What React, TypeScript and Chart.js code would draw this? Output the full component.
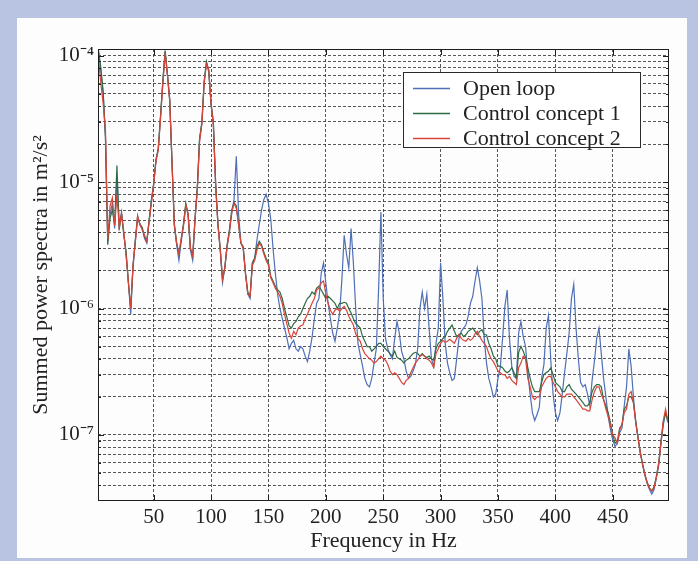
import React, { useEffect, useRef } from "react";
import { Chart, registerables } from "chart.js";

Chart.register(...registerables);

// ---- data (frequency in Hz, summed power spectra in m^2/s^2) ----
const frequencies = [
  2, 4, 6, 8, 10, 12, 14, 16, 18, 20,
  22, 24, 26, 28, 30, 32, 34, 36, 38, 40,
  42, 44, 46, 48, 50, 52, 54, 56, 58, 60,
  62, 64, 66, 68, 70, 72, 74, 76, 78, 80,
  82, 84, 86, 88, 90, 92, 94, 96, 98, 100,
  102, 104, 106, 108, 110, 112, 114, 116, 118, 120,
  122, 124, 126, 128, 130, 132, 134, 136, 138, 140,
  142, 144, 146, 148, 150, 152, 154, 156, 158, 160,
  162, 164, 166, 168, 170, 172, 174, 176, 178, 180,
  182, 184, 186, 188, 190, 192, 194, 196, 198, 200,
  202, 204, 206, 208, 210, 212, 214, 216, 218, 220,
  222, 224, 226, 228, 230, 232, 234, 236, 238, 240,
  242, 244, 246, 248, 250, 252, 254, 256, 258, 260,
  262, 264, 266, 268, 270, 272, 274, 276, 278, 280,
  282, 284, 286, 288, 290, 292, 294, 296, 298, 300,
  302, 304, 306, 308, 310, 312, 314, 316, 318, 320,
  322, 324, 326, 328, 330, 332, 334, 336, 338, 340,
  342, 344, 346, 348, 350, 352, 354, 356, 358, 360,
  362, 364, 366, 368, 370, 372, 374, 376, 378, 380,
  382, 384, 386, 388, 390, 392, 394, 396, 398, 400,
  402, 404, 406, 408, 410, 412, 414, 416, 418, 420,
  422, 424, 426, 428, 430, 432, 434, 436, 438, 440,
  442, 444, 446, 448, 450, 452, 454, 456, 458, 460,
  462, 464, 466, 468, 470, 472, 474, 476, 478, 480,
  482, 484, 486, 488, 490, 492, 494, 496, 498,
];

const openLoop = [
  1.05e-4, 7.5e-5, 5e-5, 2.2e-5, 3.4e-6, 5.5e-6, 6.8e-6, 4.3e-6, 1.1e-5, 4.5e-6,
  5.8e-6, 3.9e-6, 2.7e-6, 1.6e-6, 9e-7, 2.1e-6, 3.4e-6, 5.2e-6, 4.7e-6, 4.3e-6,
  3.6e-6, 3.3e-6, 4.9e-6, 7e-6, 9.5e-6, 1.5e-5, 1.8e-5, 3.3e-5, 6.2e-5, 1.08e-4,
  7e-5, 4.4e-5, 1.4e-5, 4.5e-6, 3.2e-6, 2.4e-6, 3.4e-6, 4.6e-6, 6.6e-6, 5.5e-6,
  2.9e-6, 2.4e-6, 5e-6, 8.8e-6, 2.2e-5, 2.9e-5, 6.2e-5, 8.8e-5, 7.5e-5, 4.1e-5,
  2.9e-5, 9.6e-6, 4.6e-6, 2.9e-6, 1.6e-6, 2.1e-6, 3.1e-6, 4.1e-6, 5.6e-6, 7.3e-6,
  1.6e-5, 5.6e-6, 3.3e-6, 3e-6, 1.9e-6, 1.3e-6, 1.2e-6, 2.3e-6, 2.5e-6, 3.5e-6,
  4.6e-6, 6e-6, 7.3e-6, 8e-6, 6.8e-6, 5.1e-6, 3e-6, 1.9e-6, 1.3e-6, 1e-6,
  8.4e-7, 7e-7, 5.9e-7, 4.8e-7, 5.3e-7, 5.6e-7, 4.8e-7, 4.6e-7, 5e-7, 4.8e-7,
  4.2e-7, 3.8e-7, 4.6e-7, 5.9e-7, 8.3e-7, 1.1e-6, 1.2e-6, 1.9e-6, 2.3e-6, 1.6e-6,
  1.1e-6, 8.3e-7, 6.4e-7, 5.5e-7, 7e-7, 9.2e-7, 1.7e-6, 3.8e-6, 2.7e-6, 2.1e-6,
  4.3e-6, 2.3e-6, 1e-6, 5.3e-7, 4.3e-7, 3.5e-7, 2.8e-7, 2.5e-7, 2.4e-7, 2.8e-7,
  3.7e-7, 4.8e-7, 1.45e-6, 5.8e-6, 1.2e-6, 5.8e-7, 4.8e-7, 4.3e-7, 4e-7, 5.8e-7,
  7.9e-7, 6.4e-7, 4.6e-7, 4e-7, 3.2e-7, 2.8e-7, 2.9e-7, 3.2e-7, 3.6e-7, 4.8e-7,
  1e-6, 1.35e-6, 1e-6, 1.3e-6, 7e-7, 4e-7, 3.5e-7, 5.3e-7, 7e-7, 2.3e-6,
  1.2e-6, 5.3e-7, 3.7e-7, 3.1e-7, 2.7e-7, 2.8e-7, 4e-7, 5.8e-7, 6.6e-7, 7e-7,
  7.4e-7, 8.7e-7, 1.1e-6, 1.25e-6, 1.65e-6, 2.1e-6, 1.65e-6, 1.2e-6, 5.8e-7, 3.7e-7,
  2.8e-7, 2.4e-7, 2e-7, 2.1e-7, 2.8e-7, 3.4e-7, 5.8e-7, 1.04e-6, 1.4e-6, 5.8e-7,
  3.5e-7, 2.9e-7, 2.8e-7, 6.4e-7, 7.9e-7, 6e-7, 5e-7, 3.1e-7, 2.1e-7, 1.5e-7,
  1.3e-7, 1.45e-7, 1.65e-7, 2.8e-7, 3.6e-7, 7e-7, 8.8e-7, 3.9e-7, 2.1e-7, 1.5e-7,
  1.3e-7, 1.5e-7, 2.1e-7, 3.1e-7, 4.4e-7, 6.4e-7, 1.2e-6, 1.55e-6, 7e-7, 4e-7,
  2.6e-7, 2.4e-7, 2.5e-7, 2.1e-7, 1.7e-7, 2.7e-7, 3.8e-7, 5.8e-7, 7e-7, 4.4e-7,
  2.8e-7, 2e-7, 1.4e-7, 1.1e-7, 9.1e-8, 8.1e-8, 8.6e-8, 1.04e-7, 1.13e-7, 1.7e-7,
  2.4e-7, 4.8e-7, 3.5e-7, 2e-7, 1.25e-7, 9.5e-8, 7.2e-8, 5.8e-8, 4.8e-8, 4.1e-8,
  3.7e-8, 3.4e-8, 3.7e-8, 4.6e-8, 5.8e-8, 8.6e-8, 1.2e-7, 1.5e-7, 1.25e-7,
];

const controlConcept1 = [
  1.1e-4, 8e-5, 5.2e-5, 2.3e-5, 3.2e-6, 5.2e-6, 6e-6, 4.6e-6, 1.35e-5, 4.2e-6,
  5.6e-6, 3.8e-6, 2.8e-6, 1.6e-6, 1e-6, 2.2e-6, 3.5e-6, 5.4e-6, 4.6e-6, 4.4e-6,
  3.7e-6, 3.4e-6, 5e-6, 7.2e-6, 9.8e-6, 1.5e-5, 1.85e-5, 3.4e-5, 6.4e-5, 1.1e-4,
  7.2e-5, 4.5e-5, 1.45e-5, 4.7e-6, 3.3e-6, 2.7e-6, 3.5e-6, 4.7e-6, 6.8e-6, 5.6e-6,
  3e-6, 2.6e-6, 5.1e-6, 9e-6, 2.2e-5, 3e-5, 6.3e-5, 9e-5, 7.6e-5, 4.2e-5,
  3e-5, 9.8e-6, 4.7e-6, 3e-6, 1.7e-6, 2.1e-6, 3.2e-6, 4.2e-6, 6e-6, 6.9e-6,
  6.5e-6, 4.6e-6, 3.3e-6, 3.1e-6, 1.9e-6, 1.35e-6, 1.25e-6, 2.3e-6, 2.5e-6, 3.1e-6,
  3.4e-6, 3.2e-6, 2.8e-6, 2.5e-6, 2.3e-6, 1.8e-6, 1.65e-6, 1.5e-6, 1.4e-6, 1.35e-6,
  1.2e-6, 1e-6, 8.6e-7, 7.3e-7, 7e-7, 7.6e-7, 7.9e-7, 8.6e-7, 9e-7, 1e-6,
  1.1e-6, 1.2e-6, 1.25e-6, 1.35e-6, 1.3e-6, 1.45e-6, 1.5e-6, 1.4e-6, 1.3e-6, 1.2e-6,
  1.25e-6, 1.2e-6, 1.15e-6, 1.1e-6, 1e-6, 1.1e-6, 1.1e-6, 1.12e-6, 1.1e-6, 1e-6,
  9.2e-7, 8.3e-7, 7.6e-7, 7.3e-7, 7e-7, 6e-7, 5.5e-7, 5e-7, 5e-7, 4.6e-7,
  4.8e-7, 5e-7, 5.3e-7, 5.3e-7, 5e-7, 4.8e-7, 4.6e-7, 4.4e-7, 4.2e-7, 4.6e-7,
  4.1e-7, 4e-7, 3.9e-7, 3.7e-7, 3.9e-7, 4e-7, 4.2e-7, 4.4e-7, 4.5e-7, 4.4e-7,
  4.2e-7, 4.4e-7, 4.2e-7, 4.1e-7, 4.2e-7, 4e-7, 3.9e-7, 4.8e-7, 5.3e-7, 5.5e-7,
  5.8e-7, 6e-7, 6.6e-7, 7e-7, 7.4e-7, 6.6e-7, 6e-7, 6.2e-7, 6.4e-7, 6e-7,
  6.2e-7, 6.6e-7, 6.8e-7, 7e-7, 6.6e-7, 6.2e-7, 6.6e-7, 6.8e-7, 6.2e-7, 6.2e-7,
  5.3e-7, 4.8e-7, 4.2e-7, 4e-7, 3.5e-7, 3.5e-7, 3.4e-7, 3.2e-7, 3.1e-7, 3.2e-7,
  3.4e-7, 3.1e-7, 2.8e-7, 4.5e-7, 5e-7, 4.6e-7, 4.1e-7, 3.4e-7, 2.8e-7, 2.4e-7,
  2.2e-7, 2.2e-7, 2.2e-7, 2.6e-7, 3e-7, 3.1e-7, 3.2e-7, 3.4e-7, 3e-7, 2.6e-7,
  2.5e-7, 2.4e-7, 2.2e-7, 2.2e-7, 2.4e-7, 2.5e-7, 2.3e-7, 2.2e-7, 2.1e-7, 2e-7,
  1.9e-7, 1.8e-7, 1.7e-7, 1.7e-7, 1.8e-7, 2.2e-7, 2.4e-7, 2.5e-7, 2.5e-7, 2.4e-7,
  1.9e-7, 1.7e-7, 1.5e-7, 1.25e-7, 1e-7, 8.6e-8, 8.9e-8, 1.13e-7, 1.2e-7, 1.6e-7,
  1.7e-7, 2e-7, 2e-7, 1.8e-7, 1.3e-7, 9.5e-8, 7.3e-8, 5.9e-8, 4.9e-8, 4.2e-8,
  3.8e-8, 3.6e-8, 3.9e-8, 4.7e-8, 6e-8, 8.8e-8, 1.25e-7, 1.5e-7, 1.3e-7,
];

const controlConcept2 = [
  9.2e-5, 6e-5, 4.2e-5, 2.6e-5, 3.5e-6, 6.5e-6, 7.5e-6, 4.5e-6, 8e-6, 4.4e-6,
  5.6e-6, 4e-6, 2.6e-6, 1.6e-6, 1e-6, 2.2e-6, 3.3e-6, 5.4e-6, 4.6e-6, 4.2e-6,
  3.8e-6, 3.4e-6, 4.8e-6, 6.8e-6, 9.6e-6, 1.45e-5, 1.8e-5, 3.2e-5, 6e-5, 1.05e-4,
  7e-5, 4.4e-5, 1.4e-5, 4.6e-6, 3.3e-6, 2.7e-6, 3.6e-6, 4.5e-6, 6.6e-6, 5.6e-6,
  3e-6, 2.6e-6, 5e-6, 8.6e-6, 2.1e-5, 2.9e-5, 6e-5, 8.6e-5, 7.8e-5, 4.2e-5,
  2.8e-5, 9.4e-6, 4.6e-6, 2.9e-6, 1.7e-6, 2.1e-6, 3.1e-6, 4e-6, 5.8e-6, 6.8e-6,
  6.2e-6, 4.6e-6, 3.3e-6, 3e-6, 1.9e-6, 1.3e-6, 1.25e-6, 2.2e-6, 2.4e-6, 2.9e-6,
  3.3e-6, 3.1e-6, 2.7e-6, 2.4e-6, 2.2e-6, 1.75e-6, 1.6e-6, 1.45e-6, 1.35e-6, 1.25e-6,
  1.1e-6, 9e-7, 7.6e-7, 6.4e-7, 5.8e-7, 6.6e-7, 6.2e-7, 7e-7, 7.3e-7, 7.4e-7,
  8.3e-7, 9e-7, 1e-6, 1.1e-6, 1.2e-6, 1.4e-6, 1.45e-6, 1.6e-6, 1.65e-6, 1.3e-6,
  1.1e-6, 9.7e-7, 9e-7, 9.7e-7, 1e-6, 9.5e-7, 1e-6, 1.04e-6, 9.7e-7, 8.7e-7,
  8e-7, 7.4e-7, 6.3e-7, 5.8e-7, 5.5e-7, 4.8e-7, 4.4e-7, 4.2e-7, 4e-7, 3.9e-7,
  3.7e-7, 3.8e-7, 4e-7, 4.2e-7, 4e-7, 3.9e-7, 3.6e-7, 3.2e-7, 3e-7, 3.1e-7,
  3e-7, 2.8e-7, 2.6e-7, 2.5e-7, 2.7e-7, 2.8e-7, 3.1e-7, 3.4e-7, 3.7e-7, 3.9e-7,
  4.2e-7, 4.3e-7, 4.2e-7, 4e-7, 3.9e-7, 3.7e-7, 3.4e-7, 4.4e-7, 4.8e-7, 5.3e-7,
  5.6e-7, 5.4e-7, 5.5e-7, 5.7e-7, 5.5e-7, 5.3e-7, 5.8e-7, 6.2e-7, 5.8e-7, 5.6e-7,
  5.5e-7, 5.8e-7, 5.6e-7, 5.8e-7, 6.3e-7, 6.6e-7, 6e-7, 5.6e-7, 5.3e-7, 5e-7,
  4.4e-7, 4e-7, 3.8e-7, 3.5e-7, 3.2e-7, 3.1e-7, 3e-7, 3e-7, 2.8e-7, 2.9e-7,
  2.7e-7, 2.6e-7, 2.5e-7, 3.4e-7, 3.7e-7, 4.2e-7, 4e-7, 2.8e-7, 2.4e-7, 2e-7,
  1.9e-7, 2e-7, 2e-7, 2.4e-7, 2.6e-7, 2.8e-7, 2.9e-7, 2.9e-7, 2.6e-7, 2.4e-7,
  2.2e-7, 2.1e-7, 2e-7, 2e-7, 2.1e-7, 2.1e-7, 2.1e-7, 2e-7, 1.9e-7, 1.8e-7,
  1.7e-7, 1.6e-7, 1.6e-7, 1.55e-7, 1.55e-7, 1.9e-7, 2.2e-7, 2.4e-7, 2.4e-7, 2.1e-7,
  1.9e-7, 1.6e-7, 1.4e-7, 1.2e-7, 1e-7, 9.5e-8, 8.6e-8, 1.1e-7, 1.2e-7, 1.5e-7,
  1.6e-7, 2.1e-7, 2.2e-7, 1.8e-7, 1.25e-7, 9.5e-8, 7.2e-8, 5.8e-8, 4.8e-8, 4.2e-8,
  3.8e-8, 3.6e-8, 3.8e-8, 4.6e-8, 5.8e-8, 8.6e-8, 1.3e-7, 1.6e-7, 1.3e-7,
];

const seriesLabels = ["Open loop", "Control concept 1", "Control concept 2"];
const seriesValues = [openLoop, controlConcept1, controlConcept2];
const seriesColors = ["#4f6fb6", "#2f6b45", "#d8453a"];

const xTickValues = [50, 100, 150, 200, 250, 300, 350, 400, 450];
const yDecades = [1e-8, 1e-7, 1e-6, 1e-5, 1e-4];
const yMinorFactors = [1, 2, 3, 4, 5, 6, 7, 8, 9];
const xMin = 1.5;
const xMax = 499;
const yMin = 3.15e-8;
const yMax = 1.13e-4;

const xTitle = "Frequency in Hz";
const yTitle = "Summed power spectra in m\u00b2/s\u00b2";

const FONT = '"Liberation Serif", "Times New Roman", serif';
const SUP: Record<string, string> = {
  "-": "\u207b", "0": "\u2070", "1": "\u00b9", "2": "\u00b2", "3": "\u00b3",
  "4": "\u2074", "5": "\u2075", "6": "\u2076", "7": "\u2077", "8": "\u2078", "9": "\u2079",
};

function isDecade(v: number) {
  const l = Math.log10(v);
  return Math.abs(l - Math.round(l)) < 1e-6;
}
function decadeLabel(v: number) {
  const e = String(Math.round(Math.log10(v)));
  return "10" + e.split("").map((c) => SUP[c] || c).join("");
}

const framePlugin = {
  id: "frameAndLegend",
  afterDatasetsDraw(chart: any) {
    const { ctx, chartArea: a, scales } = chart;
    const xs = scales.x;
    const ys = scales.y;
    ctx.save();
    ctx.strokeStyle = "#1e1e1e";
    ctx.lineWidth = 1;
    ctx.setLineDash([]);
    ctx.strokeRect(a.left + 0.5, a.top + 0.5, a.right - a.left - 1, a.bottom - a.top - 1);
    ctx.beginPath();
    xs.ticks.forEach((t: any) => {
      const px = Math.round(xs.getPixelForValue(t.value)) + 0.5;
      ctx.moveTo(px, a.bottom);
      ctx.lineTo(px, a.bottom - 6);
      ctx.moveTo(px, a.top);
      ctx.lineTo(px, a.top + 6);
    });
    ys.ticks.forEach((t: any) => {
      const len = isDecade(t.value) ? 6 : 3;
      const py = Math.round(ys.getPixelForValue(t.value)) + 0.5;
      ctx.moveTo(a.left, py);
      ctx.lineTo(a.left + len, py);
      ctx.moveTo(a.right, py);
      ctx.lineTo(a.right - len, py);
    });
    ctx.stroke();

    // legend box
    const lx = 403, ly = 72, lw = 238, lh = 76;
    ctx.fillStyle = "#ffffff";
    ctx.fillRect(lx, ly, lw, lh);
    ctx.strokeStyle = "#2a2a2a";
    ctx.strokeRect(lx + 0.5, ly + 0.5, lw - 1, lh - 1);
    ctx.font = "22px " + FONT;
    ctx.textBaseline = "middle";
    ctx.textAlign = "left";
    seriesLabels.forEach((label, i) => {
      const ry = ly + 16 + i * 25;
      ctx.strokeStyle = seriesColors[i];
      ctx.lineWidth = 1.3;
      ctx.beginPath();
      ctx.moveTo(lx + 10, ry + 0.5);
      ctx.lineTo(lx + 47, ry + 0.5);
      ctx.stroke();
      ctx.fillStyle = "#222";
      ctx.fillText(label, lx + 60, ry + 1);
    });
    ctx.restore();
  },
};

export default function App() {
  const ref = useRef<HTMLCanvasElement>(null);
  useEffect(() => {
    const datasets = seriesLabels.map((label, i) => ({
      label,
      data: frequencies.map((f, j) => ({ x: f, y: seriesValues[i][j] })),
      borderColor: seriesColors[i],
      backgroundColor: seriesColors[i],
      borderWidth: 1.2,
      pointRadius: 0,
      tension: 0,
      fill: false,
      order: 2 - i,
    }));
    const chart = new Chart(ref.current as HTMLCanvasElement, {
      type: "line",
      data: { datasets },
      plugins: [framePlugin],
      options: {
        animation: false,
        responsive: false,
        maintainAspectRatio: false,
        devicePixelRatio: 1,
        layout: { padding: { left: 0, top: 49, right: 29, bottom: 0 } },
        plugins: { legend: { display: false }, tooltip: { enabled: false } },
        scales: {
          x: {
            type: "linear",
            min: xMin,
            max: xMax,
            afterBuildTicks: (axis: any) => {
              axis.ticks = xTickValues.map((v) => ({ value: v }));
            },
            afterFit: (s: any) => {
              s.height = 60;
            },
            ticks: {
              autoSkip: false,
              maxRotation: 0,
              padding: 4,
              color: "#222",
              font: { family: FONT, size: 21 },
              callback: (v: any) => String(v),
            },
            grid: {
              color: "rgba(45,45,45,0.8)",
              lineWidth: 1,
              drawTicks: false,
            },
            border: { display: false, dash: [3, 2] },
            title: {
              display: true,
              text: xTitle,
              color: "#222",
              font: { family: FONT, size: 22 },
              padding: { top: 0, bottom: 7 },
            },
          },
          y: {
            type: "logarithmic",
            min: yMin,
            max: yMax,
            afterBuildTicks: (axis: any) => {
              const list: { value: number }[] = [];
              yDecades.forEach((d) => {
                yMinorFactors.forEach((m) => {
                  const v = m * d;
                  if (v >= yMin && v <= yMax) list.push({ value: v });
                });
              });
              axis.ticks = list;
            },
            afterFit: (s: any) => {
              s.width = 98;
            },
            ticks: {
              autoSkip: false,
              padding: 4,
              color: "#222",
              font: { family: FONT, size: 21 },
              callback: (v: any) => (isDecade(Number(v)) ? decadeLabel(Number(v)) : ""),
            },
            grid: {
              color: "rgba(45,45,45,0.8)",
              lineWidth: 1,
              drawTicks: false,
            },
            border: { display: false, dash: [3, 2] },
            title: {
              display: true,
              text: yTitle,
              color: "#222",
              font: { family: FONT, size: 22 },
              padding: { top: 28, bottom: 0 },
            },
          },
        },
      } as any,
    });
    return () => chart.destroy();
  }, []);

  return (
    <div
      style={{
        position: "absolute",
        left: 0,
        top: 0,
        width: 698,
        height: 561,
        background: "#b8c4e2",
        overflow: "hidden",
      }}
    >
      <div
        style={{
          position: "absolute",
          left: 17,
          top: 18,
          width: 670,
          height: 540,
          background: "#fdfdfd",
        }}
      />
      <canvas
        ref={ref}
        width={698}
        height={561}
        style={{ position: "absolute", left: 0, top: 0, width: 698, height: 561 }}
      />
    </div>
  );
}
